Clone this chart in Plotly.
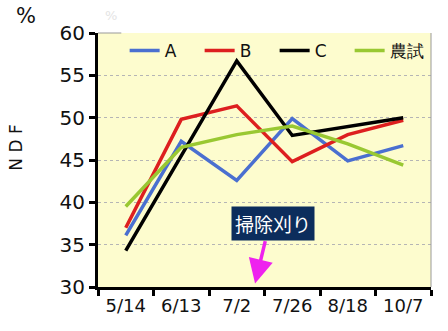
import plotly.graph_objects as go

dates = ["5/14", "6/13", "7/2", "7/26", "8/18", "10/7"]
series_names = ["A", "B", "C", "農試"]
vals_A = [36.1, 47.2, 42.6, 49.9, 44.9, 46.7]
vals_B = [37.0, 49.8, 51.4, 44.8, 48.0, 49.7]
vals_C = [34.3, 45.5, 56.7, 47.9, 49.0, 50.0]
vals_N = [39.5, 46.5, 48.0, 49.0, 46.9, 44.4]
colors = ["#4a6fd0", "#dd1f1f", "#000000", "#99c832"]
y_ticks = [30, 35, 40, 45, 50, 55, 60]

FONT = "'DejaVu Sans', sans-serif"

fig = go.Figure()
for name, vals, col in zip(series_names, [vals_A, vals_B, vals_C, vals_N], colors):
    fig.add_trace(go.Scatter(x=dates, y=vals, name=name, mode="lines",
                             line=dict(color=col, width=3.5)))

fig.update_layout(
    width=448, height=331,
    margin=dict(l=98, r=17, t=33, b=44),
    paper_bgcolor="white",
    plot_bgcolor="#fdfcce",
    font=dict(family=FONT, color="#111", size=17),
    showlegend=True,
    legend=dict(orientation="h", x=0.08, y=1.0, xanchor="left", yanchor="top",
                bgcolor="rgba(0,0,0,0)", font=dict(size=17, family=FONT),
                itemwidth=30, entrywidth=30, tracegroupgap=0),
    xaxis=dict(type="category", tickson="boundaries", ticks="outside", ticklen=6,
               tickwidth=2.5, tickcolor="black", showline=True, linecolor="black",
               linewidth=3, showgrid=False, tickfont=dict(size=18, family=FONT),
               range=[-0.5, 5.5], mirror=False),
    yaxis=dict(range=[30, 60], tickvals=y_ticks, ticks="outside", ticklen=6,
               tickwidth=2.5, tickcolor="black", showline=True, linecolor="black",
               linewidth=3, showgrid=True, gridcolor="#b5b5b5", griddash="dot",
               gridwidth=1, zeroline=False, tickfont=dict(size=20, family=FONT)),
)

# right/top thin border
fig.add_shape(type="line", xref="paper", yref="paper", x0=1, x1=1, y0=0, y1=1,
              line=dict(color="#999", width=1))
fig.add_shape(type="line", xref="paper", yref="paper", x0=0, x1=0.07, y0=1, y1=1,
              line=dict(color="#999", width=1))

fig.add_annotation(text="N D F", xref="paper", yref="paper", x=-0.245, y=0.55,
                   xanchor="center", textangle=-90, showarrow=False,
                   font=dict(size=17, family=FONT))
fig.add_annotation(text="%", xref="paper", yref="paper", x=-0.215, y=1.01,
                   xanchor="center", yanchor="bottom", showarrow=False,
                   font=dict(size=21, family=FONT))
fig.add_annotation(text="%", xref="paper", yref="paper", x=0.04, y=1.03,
                   xanchor="center", yanchor="bottom", showarrow=False,
                   font=dict(size=13, family=FONT, color="#e4e4e4"))

# arrow
fig.add_annotation(x=2.33, y=30.4, ax=2.52, ay=35.6, axref="x", ayref="y",
                   xref="x", yref="y", text="", showarrow=True, arrowhead=2,
                   arrowsize=1.4, arrowwidth=3.5, arrowcolor="#ee22ee")
fig.add_annotation(x=2.65, y=37.5, xref="x", yref="y", text="掃除刈り",
                   showarrow=False, bgcolor="#0c2d5c", borderpad=3,
                   font=dict(color="white", size=19,
                             family="'Noto Sans CJK JP', sans-serif"))

fig.write_html("out.html")
